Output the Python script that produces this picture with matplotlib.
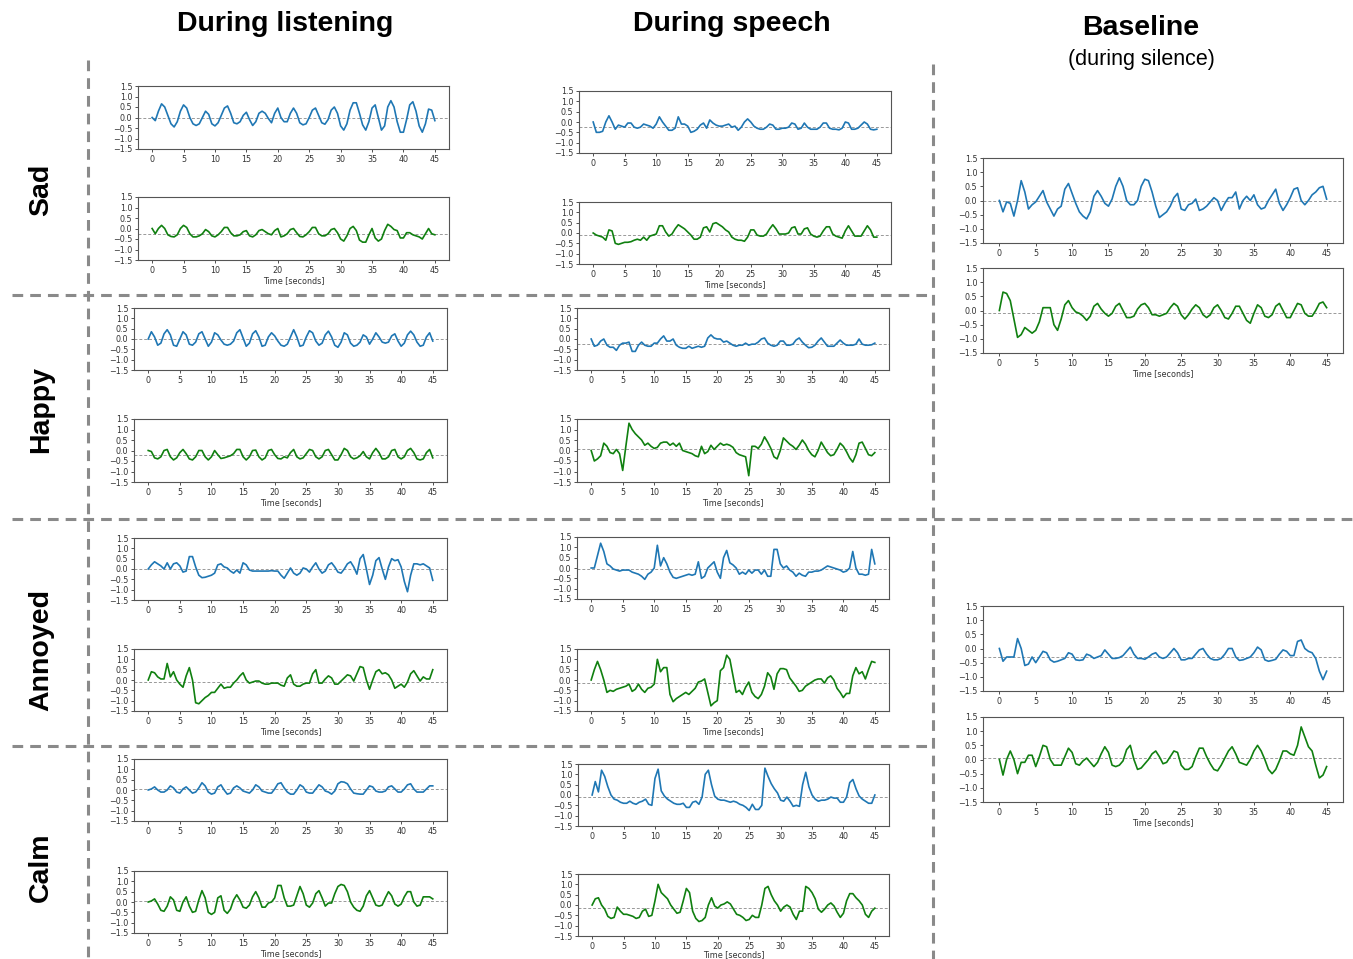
import numpy as np
import matplotlib
matplotlib.use("Agg")
import matplotlib.pyplot as plt
from matplotlib.lines import Line2D

# ---------------- data (sampled every 0.5 s, 0..45 s) ----------------
STEP = 0.5

listen_sad_blue = [0.0, -0.15, 0.3, 0.65, 0.5, 0.1, -0.3, -0.45, -0.2, 0.3, 0.6, 0.45, 0.0, -0.3, -0.38, -0.3, 0.0, 0.3, 0.15, -0.3,
                   -0.4, -0.25, 0.1, 0.45, 0.55, 0.2, -0.25, -0.3, -0.2, 0.1, 0.25, -0.1, -0.38, -0.2, 0.2, 0.3, 0.2, -0.05, -0.25, 0.2,
                   0.45, 0.0, -0.2, -0.2, 0.2, 0.45, 0.2, -0.25, -0.35, -0.3, 0.0, 0.35, 0.45, 0.1, -0.25, -0.32, -0.1, 0.35, 0.5, 0.2,
                   -0.4, -0.6, -0.3, 0.35, 0.7, 0.7, 0.2, -0.35, -0.6, -0.2, 0.45, 0.6, 0.0, -0.6, -0.4, 0.5, 0.8, 0.5, -0.2, -0.7,
                   -0.7, -0.1, 0.6, 0.75, 0.3, -0.4, -0.7, -0.3, 0.4, 0.35, -0.15]
listen_sad_green = [0.0, -0.25, 0.0, 0.15, 0.0, -0.3, -0.38, -0.4, -0.3, 0.0, 0.15, 0.05, -0.25, -0.4, -0.4, -0.35, -0.25, -0.05, -0.15, -0.35,
                    -0.4, -0.3, -0.15, 0.05, 0.05, -0.2, -0.35, -0.35, -0.3, -0.15, -0.1, -0.35, -0.4, -0.3, -0.1, -0.05, -0.15, -0.25, -0.3, -0.1,
                    0.0, -0.4, -0.35, -0.25, -0.05, 0.0, -0.2, -0.38, -0.4, -0.3, -0.15, 0.05, 0.05, -0.25, -0.35, -0.35, -0.25, -0.05, 0.0, -0.2,
                    -0.5, -0.6, -0.35, 0.0, 0.1, -0.1, -0.55, -0.65, -0.65, -0.3, 0.0, -0.45, -0.6, -0.5, -0.1, 0.2, 0.1, -0.05, -0.1, -0.45,
                    -0.45, -0.2, -0.2, -0.3, -0.35, -0.4, -0.5, -0.25, 0.0, -0.25, -0.3]
listen_happy_blue = [0.0, 0.35, 0.1, -0.3, -0.2, 0.25, 0.45, 0.2, -0.3, -0.35, 0.0, 0.35, 0.2, -0.25, -0.3, -0.15, 0.25, 0.35, 0.0, -0.35,
                     -0.15, 0.3, 0.2, -0.05, -0.25, -0.3, -0.25, -0.1, 0.3, 0.45, 0.05, -0.35, -0.2, 0.25, 0.4, 0.1, -0.35, -0.3, 0.1, 0.3,
                     0.15, -0.1, -0.3, -0.35, -0.25, 0.1, 0.45, 0.1, -0.35, -0.3, 0.1, 0.4, 0.3, -0.1, -0.3, -0.2, 0.2, 0.38, 0.1, -0.3,
                     -0.4, -0.15, 0.3, 0.2, -0.2, -0.35, -0.3, -0.15, 0.2, 0.1, -0.25, 0.0, 0.3, 0.1, -0.15, -0.2, -0.15, 0.15, 0.25, -0.1,
                     -0.35, -0.2, 0.2, 0.38, 0.2, -0.15, -0.35, -0.3, 0.1, 0.3, -0.1]
listen_happy_green = [0.0, -0.05, -0.35, -0.4, -0.3, 0.0, 0.05, -0.3, -0.45, -0.35, -0.1, 0.05, -0.15, -0.4, -0.45, -0.3, 0.0, 0.0, -0.3, -0.45,
                      -0.3, 0.0, -0.2, -0.38, -0.35, -0.3, -0.25, -0.15, 0.05, 0.05, -0.3, -0.45, -0.3, 0.0, 0.02, -0.3, -0.45, -0.35, 0.0, 0.05,
                      -0.2, -0.38, -0.4, -0.3, -0.35, -0.1, 0.05, -0.3, -0.4, -0.35, -0.15, 0.05, 0.0, -0.3, -0.4, -0.3, 0.0, 0.05, -0.2, -0.45,
                      -0.45, -0.2, 0.1, 0.0, -0.3, -0.4, -0.35, -0.25, -0.05, -0.3, -0.4, -0.1, 0.1, -0.1, -0.4, -0.4, -0.3, 0.0, 0.05, -0.3,
                      -0.4, -0.3, 0.0, 0.1, -0.1, -0.4, -0.45, -0.4, -0.1, 0.05, -0.35]
listen_annoyed_blue = [0.0, 0.2, 0.35, 0.25, 0.15, 0.0, 0.3, 0.0, 0.25, 0.3, 0.15, -0.15, -0.1, 0.6, 0.6, 0.1, -0.3, -0.42, -0.4, -0.35,
                       -0.3, -0.2, 0.2, 0.25, 0.1, 0.05, -0.1, -0.2, -0.05, -0.2, 0.3, 0.2, -0.05, -0.1, -0.1, -0.1, -0.1, -0.1, -0.1, -0.08,
                       -0.1, -0.1, -0.3, -0.45, -0.2, 0.05, -0.2, -0.3, -0.2, 0.05, 0.0, -0.15, 0.1, 0.3, 0.0, -0.2, -0.1, 0.2, 0.3, 0.1,
                       -0.15, -0.2, 0.0, 0.25, 0.35, 0.1, -0.25, 0.5, 0.7, 0.0, -0.75, -0.3, 0.4, 0.55, 0.0, -0.5, 0.1, 0.5, 0.4, 0.45,
                       0.1, -0.6, -1.1, -0.3, 0.25, 0.25, 0.2, 0.25, 0.15, 0.05, -0.55]
listen_annoyed_green = [0.0, 0.4, 0.35, 0.15, 0.05, 0.05, 0.8, 0.15, 0.4, 0.0, -0.2, -0.35, 0.2, 0.6, 0.0, -1.1, -1.15, -1.0, -0.85, -0.75,
                        -0.6, -0.6, -0.4, -0.2, -0.4, -0.35, -0.35, -0.15, 0.0, 0.2, 0.35, 0.0, -0.15, -0.1, -0.05, -0.05, -0.15, -0.2, -0.2, -0.15,
                        -0.15, -0.15, -0.25, -0.3, 0.1, 0.25, -0.2, -0.3, -0.3, -0.2, -0.15, -0.15, 0.3, 0.5, -0.15, -0.15, 0.05, 0.2, 0.1, -0.2,
                        -0.2, -0.05, 0.1, 0.25, 0.2, -0.05, 0.3, 0.65, 0.6, 0.0, -0.45, 0.0, 0.4, 0.5, 0.3, 0.35, 0.25, 0.0, -0.4, -0.3,
                        -0.2, -0.35, -0.1, 0.3, 0.45, 0.2, -0.05, 0.15, 0.05, 0.05, 0.5]
listen_calm_blue = [0.0, 0.05, 0.15, 0.0, -0.1, -0.1, 0.0, 0.2, 0.1, -0.1, -0.15, 0.05, 0.15, 0.0, -0.15, -0.1, 0.1, 0.35, 0.2, -0.1,
                    -0.2, -0.15, 0.15, 0.25, 0.0, -0.2, -0.15, 0.1, 0.2, 0.1, -0.05, -0.1, -0.15, 0.0, 0.25, 0.15, -0.05, -0.1, -0.15, -0.15,
                    0.05, 0.3, 0.35, 0.1, -0.1, -0.2, -0.2, 0.0, 0.25, 0.15, -0.1, -0.15, -0.15, 0.05, 0.25, 0.15, -0.05, -0.1, -0.2, -0.05,
                    0.3, 0.4, 0.38, 0.3, 0.05, -0.15, -0.18, -0.2, -0.2, 0.0, 0.2, 0.15, -0.05, -0.1, -0.1, -0.05, 0.15, 0.2, 0.05, -0.1,
                    -0.1, 0.05, 0.25, 0.3, 0.05, -0.1, -0.1, -0.1, 0.05, 0.2, 0.2]
listen_calm_green = [0.0, 0.05, 0.15, -0.1, -0.4, -0.45, -0.2, 0.25, 0.1, -0.4, -0.45, 0.0, 0.25, -0.2, -0.5, -0.45, 0.1, 0.55, 0.2, -0.5,
                     -0.6, -0.5, 0.2, 0.3, -0.4, -0.55, -0.35, 0.1, 0.35, 0.1, -0.25, -0.3, -0.15, 0.25, 0.5, 0.2, -0.25, -0.25, -0.05, 0.0,
                     0.2, 0.8, 0.8, 0.2, -0.2, -0.2, -0.15, 0.3, 0.75, 0.4, -0.15, -0.25, -0.05, 0.4, 0.55, 0.2, -0.2, -0.05, -0.05, 0.4,
                     0.75, 0.85, 0.8, 0.5, 0.0, -0.25, -0.4, -0.45, -0.2, 0.3, 0.55, 0.2, -0.15, -0.2, -0.15, 0.2, 0.5, 0.3, -0.1, -0.2,
                     -0.1, 0.25, 0.5, 0.5, 0.0, -0.2, -0.15, 0.25, 0.25, 0.25, 0.15]

speech_sad_blue = [0.0, -0.5, -0.5, -0.45, 0.0, 0.3, 0.0, -0.35, -0.15, -0.2, -0.25, -0.05, -0.05, -0.25, -0.3, -0.25, -0.1, -0.15, -0.2, -0.3,
                   -0.1, 0.25, 0.0, -0.2, -0.4, -0.4, -0.3, 0.25, -0.1, -0.1, -0.2, -0.5, -0.45, -0.35, -0.15, -0.05, -0.3, 0.1, -0.05, -0.15,
                   -0.2, -0.2, -0.15, -0.1, -0.25, -0.2, -0.4, -0.25, 0.0, 0.15, 0.0, -0.2, -0.3, -0.35, -0.35, -0.25, -0.1, -0.15, -0.35, -0.35,
                   -0.3, -0.3, -0.25, -0.05, -0.1, -0.35, -0.3, -0.05, -0.25, -0.35, -0.35, -0.35, -0.25, -0.05, -0.05, -0.3, -0.35, -0.35, -0.38, -0.3,
                   0.0, -0.05, -0.35, -0.35, -0.3, -0.15, 0.0, -0.1, -0.35, -0.38, -0.35]
speech_sad_green = [0.0, -0.1, -0.15, -0.2, -0.35, 0.15, 0.1, -0.5, -0.55, -0.5, -0.45, -0.45, -0.42, -0.35, -0.3, -0.35, -0.2, -0.35, -0.15, -0.1,
                    -0.05, 0.35, 0.35, 0.05, -0.15, -0.05, 0.2, 0.4, 0.3, 0.2, 0.05, -0.1, -0.3, -0.3, -0.2, 0.25, 0.3, 0.05, 0.45, 0.5,
                    0.4, 0.3, 0.15, 0.05, -0.2, -0.3, -0.35, -0.35, -0.4, -0.2, 0.15, 0.15, -0.1, -0.15, -0.15, -0.05, 0.2, 0.4, 0.2, -0.05,
                    -0.05, -0.05, 0.0, 0.25, 0.3, -0.05, -0.05, 0.2, 0.25, -0.05, -0.15, -0.2, -0.15, 0.1, 0.3, 0.3, -0.05, -0.15, -0.2, -0.25,
                    0.1, 0.35, 0.1, -0.15, -0.15, -0.15, 0.1, 0.35, 0.15, -0.2, -0.2]
speech_happy_blue = [0.0, -0.35, -0.3, -0.1, 0.0, -0.3, -0.4, -0.4, -0.55, -0.3, -0.2, -0.2, -0.15, -0.6, -0.6, -0.3, -0.15, -0.3, -0.35, -0.35,
                     -0.2, -0.2, 0.0, 0.15, -0.1, -0.1, 0.0, -0.3, -0.4, -0.45, -0.45, -0.35, -0.45, -0.4, -0.35, -0.4, -0.35, 0.05, 0.2, 0.05,
                     0.0, 0.0, -0.15, -0.1, -0.2, -0.3, -0.35, -0.3, -0.3, -0.2, -0.3, -0.25, -0.25, -0.15, 0.0, 0.05, -0.2, -0.3, -0.35, -0.3,
                     -0.1, -0.1, -0.3, -0.3, -0.25, -0.05, 0.05, -0.15, -0.3, -0.42, -0.4, -0.3, -0.1, 0.05, -0.15, -0.35, -0.35, -0.35, -0.2, -0.05,
                     -0.2, -0.3, -0.3, -0.3, -0.25, 0.0, -0.25, -0.3, -0.3, -0.28, -0.2]
speech_happy_green = [0.0, -0.5, -0.4, -0.25, 0.35, 0.2, -0.1, -0.15, 0.05, -0.15, -0.95, 0.2, 1.3, 1.0, 0.8, 0.65, 0.5, 0.25, 0.35, 0.2,
                      0.1, 0.15, 0.35, 0.4, 0.4, 0.25, 0.35, 0.2, 0.35, 0.0, -0.05, -0.1, -0.15, -0.25, -0.3, 0.2, -0.15, -0.05, 0.25, 0.05,
                      0.2, 0.35, 0.25, 0.3, 0.25, 0.15, -0.1, -0.2, -0.25, -0.3, -1.2, 0.2, 0.2, 0.1, 0.3, 0.65, 0.4, 0.1, -0.3, -0.4,
                      0.0, 0.6, 0.45, 0.3, 0.2, 0.05, 0.25, 0.5, 0.3, 0.0, -0.2, -0.3, 0.0, 0.4, 0.15, -0.1, -0.25, -0.2, 0.05, 0.35,
                      0.2, -0.05, -0.35, -0.55, -0.2, 0.35, 0.4, 0.1, -0.2, -0.25, -0.1]
speech_annoyed_blue = [0.0, 0.0, 0.6, 1.2, 0.8, 0.2, 0.1, -0.05, -0.1, -0.15, -0.1, -0.1, -0.1, -0.2, -0.25, -0.3, -0.4, -0.55, -0.3, -0.2,
                       0.0, 1.1, 0.1, 0.5, 0.2, -0.2, -0.45, -0.5, -0.45, -0.4, -0.35, -0.3, -0.35, -0.3, 0.3, -0.5, -0.4, 0.0, 0.15, 0.3,
                       -0.2, -0.5, 0.5, 0.85, 0.25, 0.15, 0.0, -0.3, -0.2, -0.3, -0.1, -0.25, -0.1, -0.1, -0.3, -0.1, -0.4, -0.4, 0.9, 0.9,
                       0.2, 0.0, 0.1, -0.1, -0.2, -0.4, -0.25, -0.35, -0.4, -0.2, -0.2, -0.15, -0.15, -0.1, 0.0, 0.1, 0.05, 0.0, -0.05, -0.1,
                       -0.2, -0.15, 0.0, 0.8, 0.0, -0.3, -0.3, -0.35, -0.3, 0.9, 0.2]
speech_annoyed_green = [0.0, 0.5, 0.9, 0.5, 0.0, -0.6, -0.5, -0.55, -0.45, -0.4, -0.35, -0.3, -0.2, -0.55, -0.45, -0.2, -0.45, -0.6, -0.4, -0.35,
                        -0.2, 1.0, 0.4, 0.6, 0.6, -0.7, -1.05, -0.9, -0.8, -0.7, -0.6, -0.7, -0.55, -0.4, -0.1, -0.05, 0.05, -0.6, -1.25, -1.1,
                        -1.0, 0.45, 0.6, 1.2, 1.0, 0.2, -0.6, -0.5, -0.7, -0.35, -0.1, -0.6, -0.8, -0.9, -0.7, -0.3, 0.35, 0.15, -0.45, 0.3,
                        0.55, 0.55, 0.5, 0.1, -0.1, -0.3, -0.55, -0.5, -0.3, -0.2, -0.1, 0.0, 0.05, 0.05, -0.15, 0.1, 0.2, 0.0, -0.4, -0.6,
                        -0.85, -0.65, -0.65, 0.2, 0.6, 0.3, 0.4, 0.05, 0.5, 0.9, 0.85]
speech_calm_blue = [0.0, 0.65, 0.15, 1.2, 0.9, 0.4, 0.0, -0.2, -0.25, -0.35, -0.4, -0.4, -0.3, -0.4, -0.45, -0.35, -0.3, -0.2, -0.45, -0.5,
                    0.8, 1.25, 0.2, -0.05, -0.2, -0.3, -0.4, -0.45, -0.45, -0.4, -0.6, -0.6, -0.35, -0.3, -0.45, -0.1, 1.0, 1.2, 0.5, -0.05,
                    -0.2, -0.25, -0.25, -0.3, -0.35, -0.3, -0.35, -0.45, -0.5, -0.6, -0.75, -0.45, -0.7, -0.7, -0.5, 1.3, 0.9, 0.55, 0.3, 0.1,
                    -0.25, -0.3, -0.1, -0.3, -0.55, -0.5, -0.55, 0.5, 1.1, 0.4, 0.0, -0.2, -0.3, -0.25, -0.25, -0.2, -0.1, -0.15, -0.15, -0.35,
                    -0.35, -0.1, 0.6, 0.75, 0.3, -0.05, -0.2, -0.3, -0.4, -0.4, 0.0]
speech_calm_green = [0.0, 0.3, 0.35, 0.0, -0.2, -0.55, -0.65, -0.6, -0.1, -0.3, -0.45, -0.45, -0.5, -0.55, -0.65, -0.6, -0.3, -0.2, -0.55, -0.5,
                     0.2, 1.0, 0.6, 0.45, 0.3, 0.0, -0.2, -0.4, -0.35, 0.2, 0.8, 0.6, -0.3, -0.65, -0.8, -0.75, -0.6, 0.0, 0.35, -0.05,
                     -0.15, 0.0, 0.05, 0.15, 0.05, -0.2, -0.45, -0.5, -0.6, -0.75, -0.7, -0.5, -0.6, -0.6, 0.0, 0.8, 0.9, 0.5, 0.2, 0.0,
                     -0.3, -0.1, 0.0, -0.1, -0.45, -0.7, -0.3, -0.3, 0.9, 0.8, 0.6, 0.3, -0.2, -0.35, -0.2, 0.0, 0.1, -0.05, -0.35, -0.6,
                     -0.4, 0.2, 0.55, 0.55, 0.35, 0.2, 0.0, -0.45, -0.6, -0.3, -0.15]

base_sad_blue = [0.0, -0.4, -0.05, -0.1, -0.55, 0.0, 0.7, 0.3, -0.3, -0.15, -0.05, 0.15, 0.35, -0.05, -0.3, -0.55, -0.3, -0.2, 0.4, 0.6,
                 0.25, -0.1, -0.4, -0.55, -0.65, -0.4, 0.15, 0.35, 0.15, -0.1, -0.2, 0.05, 0.5, 0.8, 0.5, 0.0, -0.15, -0.15, 0.0, 0.5,
                 0.75, 0.7, 0.3, -0.2, -0.6, -0.5, -0.4, -0.2, 0.1, 0.25, -0.3, -0.35, -0.15, -0.1, 0.05, -0.35, -0.3, -0.2, -0.05, 0.1,
                 0.0, -0.35, -0.1, 0.1, 0.1, 0.3, -0.3, 0.0, 0.15, 0.0, 0.2, -0.15, -0.3, -0.25, 0.0, 0.2, 0.4, -0.1, -0.35, -0.15,
                 0.1, 0.4, 0.45, 0.0, -0.15, 0.0, 0.2, 0.3, 0.45, 0.5, 0.05]
base_sad_green = [0.0, 0.65, 0.6, 0.35, -0.3, -0.95, -0.85, -0.6, -0.7, -0.8, -0.7, -0.4, 0.1, 0.1, 0.1, -0.5, -0.7, -0.3, 0.2, 0.35,
                  0.1, -0.05, -0.1, -0.2, -0.35, -0.2, 0.15, 0.25, 0.05, -0.1, -0.2, -0.1, 0.15, 0.25, 0.0, -0.25, -0.25, -0.2, 0.05, 0.2,
                  0.25, 0.1, -0.15, -0.15, -0.2, -0.15, -0.1, 0.1, 0.25, 0.15, -0.15, -0.3, -0.15, 0.05, 0.2, 0.1, -0.15, -0.25, -0.15, 0.1,
                  0.2, 0.0, -0.25, -0.3, -0.1, 0.15, 0.15, -0.1, -0.35, -0.45, -0.1, 0.2, 0.1, -0.2, -0.25, -0.15, 0.15, 0.25, 0.0, -0.25,
                  -0.25, 0.0, 0.25, 0.2, -0.1, -0.2, -0.2, 0.0, 0.25, 0.3, 0.1]
base_annoyed_blue = [0.0, -0.45, -0.3, -0.3, -0.3, 0.35, 0.0, -0.6, -0.55, -0.3, -0.5, -0.3, -0.1, -0.15, -0.4, -0.48, -0.45, -0.4, -0.35, -0.15,
                     -0.2, -0.4, -0.42, -0.4, -0.2, -0.25, -0.35, -0.3, -0.25, -0.05, -0.2, -0.35, -0.35, -0.32, -0.25, -0.1, 0.05, -0.2, -0.35, -0.35,
                     -0.38, -0.3, -0.2, -0.15, -0.3, -0.35, -0.3, -0.15, 0.0, -0.15, -0.4, -0.4, -0.35, -0.35, -0.2, -0.05, 0.0, -0.2, -0.35, -0.4,
                     -0.4, -0.35, -0.2, 0.0, 0.0, -0.3, -0.42, -0.4, -0.35, -0.3, -0.15, 0.05, -0.05, -0.4, -0.45, -0.42, -0.38, -0.2, -0.05, -0.1,
                     -0.25, -0.25, 0.25, 0.3, 0.0, -0.1, -0.15, -0.35, -0.8, -1.1, -0.8]
base_annoyed_green = [0.0, -0.55, 0.0, 0.3, 0.0, -0.5, -0.1, -0.1, 0.15, 0.15, -0.25, 0.1, 0.5, 0.45, 0.0, -0.2, -0.2, -0.2, 0.1, 0.4,
                      0.25, -0.15, -0.2, -0.05, 0.05, -0.1, -0.25, -0.1, 0.2, 0.45, 0.25, -0.2, -0.25, -0.2, -0.05, 0.35, 0.5, 0.0, -0.35, -0.3,
                      -0.15, 0.0, 0.2, 0.3, 0.1, -0.15, -0.1, 0.1, 0.3, 0.25, -0.2, -0.35, -0.35, -0.25, 0.1, 0.4, 0.4, 0.1, -0.15, -0.35,
                      -0.4, -0.2, 0.05, 0.3, 0.45, 0.2, -0.1, -0.15, -0.2, 0.0, 0.3, 0.5, 0.3, 0.0, -0.35, -0.5, -0.35, -0.05, 0.3, 0.3,
                      0.2, 0.15, 0.5, 1.15, 0.8, 0.45, 0.3, -0.2, -0.65, -0.55, -0.25]

# level of the dashed reference line in each panel (upper, lower)
ref_levels = {
    "listen_sad": (0.0, -0.25), "listen_happy": (0.0, -0.23),
    "listen_annoyed": (0.0, -0.08), "listen_calm": (0.03, 0.03),
    "speech_sad": (-0.22, -0.08), "speech_happy": (-0.23, 0.06),
    "speech_annoyed": (-0.06, -0.16), "speech_calm": (-0.1, -0.13),
    "base_sad": (0.0, -0.09), "base_annoyed": (-0.3, 0.04),
}

column_titles = ["During listening", "During speech", "Baseline"]
baseline_subtitle = "(during silence)"
emotions = ["Sad", "Happy", "Annoyed", "Calm"]
yticks = [-1.5, -1.0, -0.5, 0.0, 0.5, 1.0, 1.5]
xticks = [0, 5, 10, 15, 20, 25, 30, 35, 40, 45]
xlabel = "Time [seconds]"

# ---------------- layout (pixels) ----------------
W, H = 1353, 959
fig = plt.figure(figsize=(W / 100, H / 100), dpi=100)


def rect(l, t, r, b):
    return [l / W, 1 - b / H, (r - l) / W, (b - t) / H]


panels = [
    # (upper rect, lower rect, blue series, green series, key)
    ((138, 86, 449, 149), (138, 197, 449, 260), listen_sad_blue, listen_sad_green, "listen_sad"),
    ((134, 308, 447, 370), (134, 419, 447, 482), listen_happy_blue, listen_happy_green, "listen_happy"),
    ((134, 538, 447, 600), (134, 649, 447, 711), listen_annoyed_blue, listen_annoyed_green, "listen_annoyed"),
    ((134, 759, 447, 821), (134, 871, 447, 933), listen_calm_blue, listen_calm_green, "listen_calm"),
    ((579, 91, 891, 153), (579, 202, 891, 264), speech_sad_blue, speech_sad_green, "speech_sad"),
    ((577, 308, 889, 370), (577, 419, 889, 482), speech_happy_blue, speech_happy_green, "speech_happy"),
    ((577, 537, 889, 599), (577, 649, 889, 711), speech_annoyed_blue, speech_annoyed_green, "speech_annoyed"),
    ((578, 764, 889, 826), (578, 874, 889, 936), speech_calm_blue, speech_calm_green, "speech_calm"),
    ((983, 158, 1343, 243), (983, 268, 1343, 353), base_sad_blue, base_sad_green, "base_sad"),
    ((983, 606, 1343, 691), (983, 717, 1343, 802), base_annoyed_blue, base_annoyed_green, "base_annoyed"),
]

BLUE = "#1f77b4"
GREEN = "#108010"


def style_axes(ax, show_xlabel, pad=1.0):
    ax.set_xlim(-2.25, 47.25)
    ax.set_ylim(-1.5, 1.5)
    ax.set_yticks(yticks)
    ax.set_xticks(xticks)
    ax.tick_params(labelsize=5.8, length=2.5, width=0.6, pad=1.5, colors="#333333")
    for s in ax.spines.values():
        s.set_linewidth(0.8)
        s.set_color("#555555")
    if show_xlabel:
        ax.set_xlabel(xlabel, fontsize=5.8, labelpad=pad, color="#333333")


for up, lo, blue, green, key in panels:
    lv_up, lv_lo = ref_levels[key]
    ax1 = fig.add_axes(rect(*up))
    t1 = np.arange(len(blue)) * STEP
    ax1.axhline(lv_up, color="#999999", lw=0.7, ls=(0, (3, 2)))
    ax1.plot(t1, blue, color=BLUE, lw=1.2)
    style_axes(ax1, False)

    ax2 = fig.add_axes(rect(*lo))
    t2 = np.arange(len(green)) * STEP
    ax2.axhline(lv_lo, color="#999999", lw=0.7, ls=(0, (3, 2)))
    ax2.plot(t2, green, color=GREEN, lw=1.2)
    style_axes(ax2, True, pad=0.0 if key == "speech_calm" else 1.0)

# ---------------- titles and labels ----------------
title_font = dict(family="Liberation Sans", fontweight="bold", fontsize=20.5)
fig.text(285 / W, 1 - 24 / H, column_titles[0], ha="center", va="center", **title_font)
fig.text(732 / W, 1 - 24 / H, column_titles[1], ha="center", va="center", **title_font)
fig.text(1141 / W, 1 - 28 / H, column_titles[2], ha="center", va="center", **title_font)
fig.text(1141 / W, 1 - 59 / H, baseline_subtitle, ha="center", va="center",
         family="Liberation Sans", fontsize=15.5)

row_y = [190, 410, 650, 867]
for name, y in zip(emotions, row_y):
    fig.text(41 / W, 1 - y / H, name, ha="center", va="center", rotation=90, **title_font)

# ---------------- dashed separators ----------------
sep_style = dict(color="#8a8a8a", lw=2.2, ls=(0, (3.5, 2.3)), transform=fig.transFigure)


def hline(y, x0, x1):
    fig.add_artist(Line2D([x0 / W, x1 / W], [1 - y / H, 1 - y / H], **sep_style))


def vline(x, y0, y1):
    fig.add_artist(Line2D([x / W, x / W], [1 - y0 / H, 1 - y1 / H], **sep_style))


vline(88, 60, 959)
vline(933, 64, 959)
hline(295, 12, 933)
hline(519, 12, 1353)
hline(746, 12, 933)

fig.savefig("out.png", dpi=100)
